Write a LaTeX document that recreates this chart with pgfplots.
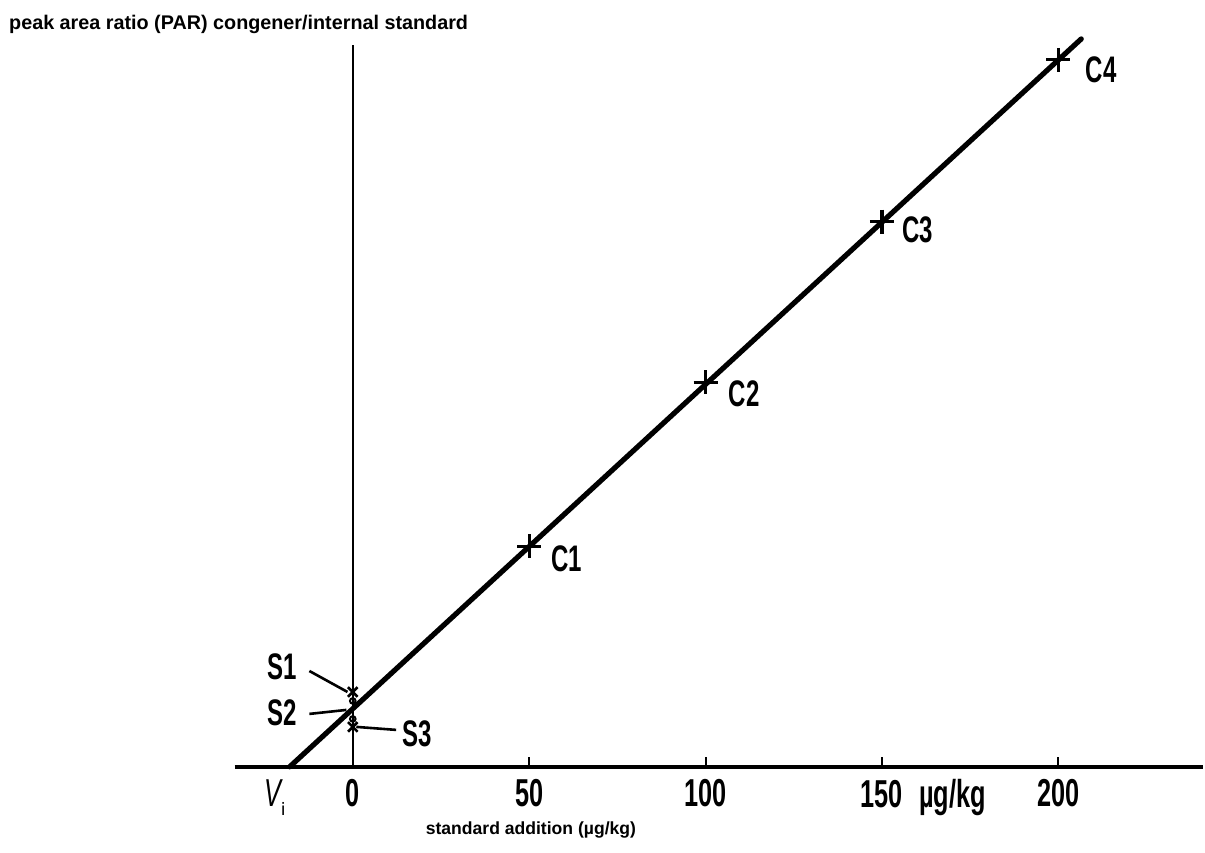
\documentclass[border=0pt]{standalone}
\usepackage{fontspec}
\setmainfont{Liberation Sans}
\newfontfamily\tickfont[FakeStretch=0.65]{Liberation Sans}
\usepackage{pgfplots}
\pgfplotsset{compat=1.18}
\newcommand\lbl{\tickfont\bfseries\fontsize{18.5}{20}\selectfont}

\begin{document}
\begin{tikzpicture}
\begin{axis}[
	x=1.7665pt, y=50pt,
	xmin=-33.5, xmax=241.1, ymin=0, ymax=7.23,
	axis x line=bottom, axis y line=middle,
	x axis line style={-, line width=1.7pt},
	y axis line style={-, line width=1.1pt},
	hide obscured x ticks=false,
	xtick={0,50,100,150,200},
	xticklabels={0,50,100,150\rlap{\hspace{8pt}µg/kg},200},
	ytick=\empty,
	xtick align=inside,
	major tick length=5pt,
	x tick style={line width=1pt, black},
	xticklabel style={font=\tickfont\bfseries\fontsize{19.5}{20}\selectfont, inner sep=0pt, anchor=north, yshift=-6pt},
	clip=false,
]
% page size as the reference
\path (axis cs:-100,7.68) rectangle (axis cs:241.1,-0.86);

% fitted standard addition line
\addplot[black, line width=2.6pt, line cap=round] coordinates {(-17.9,0) (206.5,7.29)};

% spiked standards C1..C4
\addplot[only marks, mark=+, mark size=6pt, mark options={line width=1.6pt}] coordinates {
	(50,2.21) (100,3.85) (150,5.46) (200,7.08)};

% sample results S1..S3 at zero addition
\addplot[only marks, mark=x, mark size=3.4pt, mark options={line width=1.3pt}] coordinates {(0,0.75) (0,0.40)};
\addplot[only marks, mark=o, mark size=1.4pt, mark options={line width=1pt}] coordinates {(0,0.66) (0,0.48)};

\node[font=\lbl, anchor=west, inner sep=0pt, xshift=11pt, yshift=-6.5pt] at (axis cs:50,2.21) {C1};
\node[font=\lbl, anchor=west, inner sep=0pt, xshift=11.5pt, yshift=-5.5pt] at (axis cs:100,3.85) {C2};
\node[font=\lbl, anchor=west, inner sep=0pt, xshift=10pt, yshift=-4pt] at (axis cs:150,5.46) {C3};
\node[font=\lbl, anchor=west, inner sep=0pt, xshift=13.5pt, yshift=-5pt] at (axis cs:200,7.08) {C4};

\node[font=\lbl, inner sep=0pt] at (axis cs:-19.9,1.00) {S1};
\node[font=\lbl, inner sep=0pt] at (axis cs:-19.9,0.54) {S2};
\node[font=\lbl, inner sep=0pt] at (axis cs:18.3,0.33) {S3};
\draw[line width=1.3pt] (axis cs:-12.3,0.96) -- (axis cs:-1.5,0.75);
\draw[line width=1.3pt] (axis cs:-12.3,0.53) -- (axis cs:-1.8,0.57);
\draw[line width=1.3pt] (axis cs:1.0,0.40) -- (axis cs:12.3,0.37);

\node[anchor=north, inner sep=0pt, yshift=-6pt, font=\tickfont\fontsize{19.5}{20}\selectfont] at (axis cs:-22.1,0)
	{{\itshape V}\raisebox{-5pt}{\bfseries\fontsize{9}{9}\selectfont i}};

\node[anchor=base west, inner sep=0pt, font=\bfseries\fontsize{9.9}{12}\selectfont] at (axis cs:-97.5,7.38)
	{peak area ratio (PAR) congener/internal standard};
\node[anchor=base, inner sep=0pt, font=\bfseries\fontsize{8.8}{10}\selectfont] at (axis cs:50.5,-0.68)
	{standard addition (µg/kg)};
\end{axis}
\end{tikzpicture}
\end{document}
